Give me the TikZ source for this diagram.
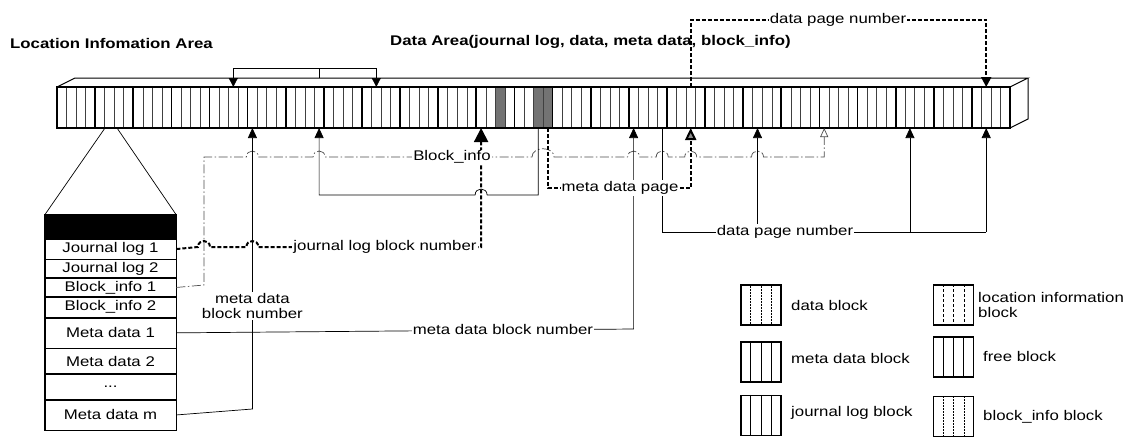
\documentclass[tikz,border=0pt]{standalone}
\usepackage{fontspec}
\setmainfont{Liberation Sans}[FakeStretch=1.2]
\usetikzlibrary{arrows.meta,calc}
\begin{document}
\begin{tikzpicture}[x=1pt,y=-1pt,
  font=\fontsize{14}{15}\selectfont,
  conn/.style={line width=0.7pt},
  dd/.style={line width=0.7pt, black!70, dash pattern=on 9pt off 2.5pt on 1.5pt off 2.5pt},
  dotl/.style={line width=2pt, dash pattern=on 4pt off 2pt},
  upa/.style={-{Triangle[width=9pt,length=10pt]}},
  lbl/.style={fill=white, inner sep=1pt},
  row/.style={draw, line width=0.7pt, minimum width=131pt, inner sep=0pt, anchor=north},
  iconbox/.style={draw, minimum width=40pt, minimum height=40pt, inner sep=0pt},
  inA/.style={line width=0.5pt, densely dotted},
  inB/.style={line width=0.7pt},
  inC/.style={line width=0.6pt},
  inD/.style={line width=0.5pt, densely dashed},
  inE/.style={line width=1.1pt},
  inF/.style={line width=0.5pt, densely dotted},
]
\useasboundingbox (0,0) rectangle (1131,436);

% ---------- strip ----------
\fill[black!55] (495.4,87) rectangle (504.9,128);
\fill[black!55] (533.5,87) rectangle (552.6,128);
\foreach \b in {0,...,24} {
  \pgfmathsetmacro\xa{57+\b*38.12}
  \foreach \c in {1,2,3} {
    \draw[line width=0.5pt, black!75] ({\xa+\c*9.53},87) -- ({\xa+\c*9.53},128);
  }
  \draw[line width=1.7pt] (\xa,87) -- (\xa,128);
}
\draw[line width=1.7pt] (57,87) rectangle (1010,128);
\draw[line width=1pt] (57,87) -- (75,78) -- (1028,78) -- (1010,87);
\draw[line width=1pt] (1028,78) -- (1028,119) -- (1010,128);

% named points on the strip
\coordinate (b2a) at (105,128);
\coordinate (b2b) at (117,128);
\coordinate (t5c3) at (233.3,87);
\coordinate (t9c2) at (376.3,87);
\coordinate (k7c4) at (319.1,78);
\coordinate (s6c1) at (252.4,128);
\coordinate (s7c4) at (319.1,128);
\coordinate (s12c1) at (481.1,128);
\coordinate (s13c3) at (538.3,128);
\coordinate (s13c4) at (547.8,128);
\coordinate (s16c1) at (633.6,128);
\coordinate (s16c4) at (662.2,128);
\coordinate (s17c3) at (690.7,128);
\coordinate (k17c3) at (690.7,87);
\coordinate (s19c2) at (757.5,128);
\coordinate (s21c1) at (824.2,128);
\coordinate (s23c2) at (909.9,128);
\coordinate (s25c2) at (986.2,128);
\coordinate (t25c2) at (986.2,87);

% ---------- titles ----------
\node[anchor=west, font=\bfseries\fontsize{14}{15}\selectfont, inner sep=0pt] (tloc) at (10,43) {Location Infomation Area};
\node[anchor=west, font=\bfseries\fontsize{14}{15}\selectfont, inner sep=0pt] (tdata) at (390,42) {Data Area(journal log, data, meta data, block\_info)};

% ---------- top bracket ----------
\coordinate (br1) at (233.3,68);
\coordinate (br2) at (376.3,68);
\coordinate (brm) at (319.1,68);
\draw[conn] (br1) -- (br2);
\draw[conn, -{Triangle[width=9pt,length=9pt]}] (br1) -- (t5c3);
\draw[conn, -{Triangle[width=9pt,length=9pt]}] (br2) -- (t9c2);
\draw[conn] (brm) -- (k7c4);

% ---------- location table ----------
\node[row, fill=black, minimum height=23pt] (head) at (110.5,215) {};
\node[row, minimum height=20pt] (jl1) at (head.south) {Journal log 1};
\node[row, minimum height=18pt] (jl2) at (jl1.south) {Journal log 2};
\node[row, minimum height=18pt] (bi1) at (jl2.south) {Block\_info 1};
\node[row, minimum height=20pt] (bi2) at (bi1.south) {Block\_info 2};
\node[row, minimum height=30pt] (md1) at (bi2.south) {Meta data 1};
\node[row, minimum height=25pt] (md2) at (md1.south) {Meta data 2};
\node[row, minimum height=25pt] (mdd) at (md2.south) {...};
\node[row, minimum height=30pt] (mdm) at (mdd.south) {Meta data m};
\draw[line width=1.6pt] (head.north west) rectangle (mdm.south east);
\draw[conn] (b2a) -- (head.north west);
\draw[conn] (b2b) -- (head.north east);

% ---------- Block_info dash-dot line ----------
\draw[dd, -{Triangle[open,width=8pt,length=9pt]}] (bi1.east) -- (204,285) -- (204,157) -- (246.4,157)
  .. controls (246.4,149) and (258.4,149) .. (258.4,157) -- (313.1,157)
  .. controls (313.1,149) and (325.1,149) .. (325.1,157) -- (532,157)
  .. controls (532,146) and (554,146) .. (554,157) -- (627.6,157)
  .. controls (627.6,149) and (639.6,149) .. (639.6,157) -- (656.2,157)
  .. controls (656.2,149) and (668.2,149) .. (668.2,157) -- (684.7,157)
  .. controls (684.7,149) and (696.7,149) .. (696.7,157) -- (751.5,157)
  .. controls (751.5,149) and (763.5,149) .. (763.5,157) -- (824.2,157) -- (s21c1);

% ---------- thin connectors ----------
\draw[conn, upa] (mdm.east) -- (252.4,409) -- (s6c1);
\draw[conn, upa] (s13c3) -- (538.3,195) -- (487.1,195)
  .. controls (487.1,187) and (475.1,187) .. (475.1,195) -- (319.1,195) -- (s7c4);
\draw[conn, upa] (md1.east) -- (633.6,329) -- (s16c1);
\draw[conn] (s16c4) -- (662.2,232) -- (986.2,232);
\draw[conn, upa] (986.2,232) -- (s25c2);
\draw[conn, upa] (757.5,232) -- (s19c2);
\draw[conn, upa] (909.9,232) -- (s23c2);

% ---------- thick dotted connectors ----------
\draw[dotl, -{Triangle[width=14pt,length=14pt]}] (jl1.east) -- (198,247)
  .. controls (198,239) and (210,239) .. (210,247) -- (246.4,247)
  .. controls (246.4,239) and (258.4,239) .. (258.4,247) -- (481.1,247) -- (s12c1);
\draw[dotl, -{Triangle[width=11pt,length=12pt,fill=black!45]}] (s13c4) -- (547.8,188) -- (690.7,188) -- (s17c3);
\draw[dotl, -{Triangle[width=10pt,length=10pt]}] (k17c3) -- (690.7,20) -- (986.2,20) -- (t25c2);

% ---------- labels ----------
\node[lbl] (lbinfo) at (452,157) {Block\_info};
\node[lbl] (ljl) at (385,247) {journal log block number};
\node[lbl] (lmdp) at (620,188) {meta data page};
\node[lbl] (ldpn) at (785,232) {data page number};
\node[lbl] (lmdbn) at (503,329) {meta data block number};
\node[lbl, align=center] (lmdbn2) at (252.4,306) {meta data\\block number};
\node[lbl] (ldpt) at (838,20) {data page number};

% ---------- legend ----------
\node[iconbox, line width=1.7pt] (ic1) at (761,305) {};
\node[iconbox, line width=1.1pt] (ic2) at (761,362) {};
\node[iconbox, line width=1.5pt] (ic3) at (761,415.5) {};
\node[iconbox, line width=1.8pt] (ic4) at (953.5,305) {};
\node[iconbox, line width=1.6pt] (ic5) at (953.5,357) {};
\node[iconbox, line width=1.3pt] (ic6) at (953.5,416.5) {};
\foreach \i/\st in {ic1/inA,ic2/inB,ic3/inC,ic4/inD,ic5/inE,ic6/inF} {
  \foreach \f in {0.25,0.5,0.75} {
    \draw[\st] ($(\i.north west)!\f!(\i.north east)$) -- ($(\i.south west)!\f!(\i.south east)$);
  }
}
\node[anchor=west, inner sep=0pt] (lt1) at (791,305) {data block};
\node[anchor=west, inner sep=0pt] (lt2) at (791,358) {meta data block};
\node[anchor=west, inner sep=0pt] (lt3) at (791,413) {journal log block};
\node[anchor=west, inner sep=0pt, align=left] (lt4) at (978,305) {location information\\block};
\node[anchor=west, inner sep=0pt] (lt5) at (983,356) {free block};
\node[anchor=west, inner sep=0pt] (lt6) at (983,417) {block\_info block};
\end{tikzpicture}
\end{document}
